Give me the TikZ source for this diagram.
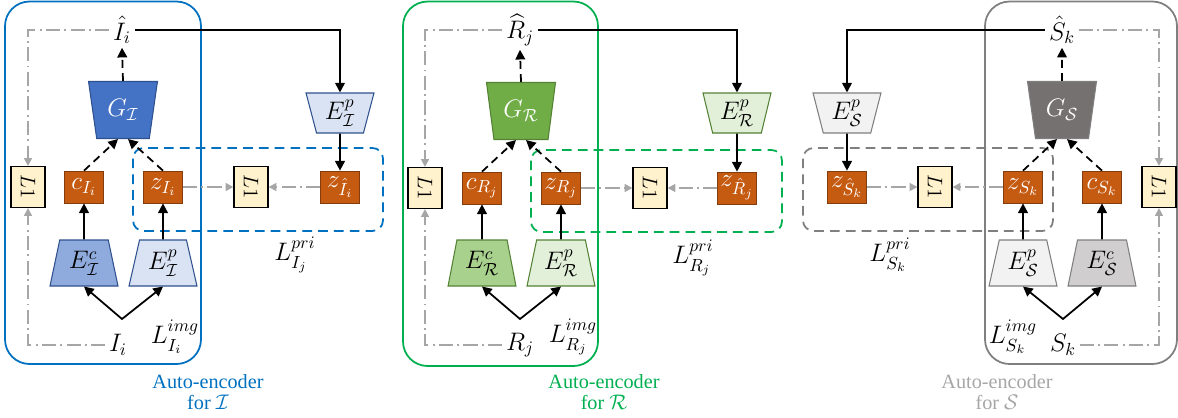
\documentclass[tikz,border=0pt]{standalone}
\usepackage{fontspec}
\setmainfont{Liberation Serif}
\usepackage{amsmath}
\usepackage{graphicx}
\usetikzlibrary{shapes.geometric, arrows.meta, positioning, calc}
\definecolor{aeblue}{HTML}{0070C0}
\definecolor{aegreen}{HTML}{00B050}
\definecolor{aegray}{HTML}{7F7F7F}
\definecolor{aelabel}{HTML}{A6A6A6}
\definecolor{codefill}{HTML}{C55A11}
\definecolor{codeedge}{HTML}{843C0C}
\definecolor{lonefill}{HTML}{FFF2CC}
\definecolor{iedge}{HTML}{2F528F}
\definecolor{idark}{HTML}{4472C4}
\definecolor{imid}{HTML}{8FAADC}
\definecolor{ilight}{HTML}{DAE3F3}
\definecolor{redge}{HTML}{548235}
\definecolor{rdark}{HTML}{70AD47}
\definecolor{rmid}{HTML}{A9D18E}
\definecolor{rlight}{HTML}{E2F0D9}
\definecolor{sedge}{HTML}{7F7F7F}
\definecolor{sdark}{HTML}{767171}
\definecolor{smid}{HTML}{D0CECE}
\definecolor{slight}{HTML}{F2F2F2}

\begin{document}
\begin{tikzpicture}[x=0.02cm, y=-0.02cm, font=\large,
    code/.style={rectangle, draw=codeedge, fill=codefill, text=white, font=\Large,
      minimum width=0.78cm, minimum height=0.64cm, inner sep=0pt},
    lone/.style={rectangle, draw=black, semithick, fill=lonefill,
      minimum width=0.68cm, minimum height=0.82cm, inner sep=0pt},
    dec/.style={trapezium, trapezium stretches=true, shape border rotate=180,
      trapezium angle=77, minimum width=1.38cm, minimum height=1.14cm,
      inner sep=0pt, text=white, semithick, font=\Large},
    enc/.style={trapezium, trapezium stretches=true, trapezium angle=76,
      minimum width=1.36cm, minimum height=0.92cm, inner sep=0pt, semithick, font=\Large},
    encp/.style={enc, shape border rotate=180, minimum height=0.8cm},
    sig/.style={font=\Large, inner sep=2pt},
    feed/.style={-{Triangle[length=5.5pt, width=5.5pt]}, line width=1pt},
    fork/.style={{Triangle[length=5.5pt, width=5.5pt]}-{Triangle[length=5.5pt, width=5.5pt]}, line width=1pt},
    gen/.style={feed, dash pattern=on 4.5pt off 3pt},
    cmp/.style={-{Triangle[length=4.5pt, width=4.5pt]}, line width=1pt, aelabel,
      dash pattern=on 8pt off 2.5pt on 1pt off 2.5pt},
    pribox/.style={line width=1pt, dash pattern=on 5.5pt off 3.5pt, rounded corners=6pt},
    aebox/.style={line width=1pt, rounded corners=14pt},
    caption/.style={align=center, font=\fontsize{11.5}{11.5}\selectfont},
  ]
  \useasboundingbox (0,0) rectangle (1178,417);

  % auto-encoder for I
  \draw[aebox, draw=aeblue] (5,1.5) rectangle (201,364);
  \draw[pribox, draw=aeblue] (133,148) rectangle (383,231);
  \node[sig] (hatI) at (122,30) {$\hat{I}_i$};
  \node[sig] (Ii) at (118,345) {$I_i$};
  \node[dec, draw=iedge, fill=idark] (GI) at (123,110) {$G_{\mathcal{I}}$};
  \node[enc, draw=iedge, fill=imid] (EcI) at (84,263) {$E^{c}_{\mathcal{I}}$};
  \node[enc, draw=iedge, fill=ilight] (EpI) at (163,263) {$E^{p}_{\mathcal{I}}$};
  \node[encp, draw=iedge, fill=ilight] (EpIo) at (340,113) {$E^{p}_{\mathcal{I}}$};
  \node[code] (cI) at (84,187) {$c_{I_i}$};
  \node[code] (zI) at (163,187) {$z_{I_i}$};
  \node[code] (zhI) at (340,187) {$z_{\hat{I}_i}$};
  \node[lone] (L1Iimg) at (28,187) {\rotatebox{-90}{$L1$}};
  \node[lone] (L1Ipri) at (251,187) {\rotatebox{-90}{$L1$}};
  \coordinate (fI) at (122,319);
  \node[sig] (LimgI) at (175,337) {$L^{img}_{I_i}$};
  \node[sig] (LpriI) at (295,255) {$L^{pri}_{I_j}$};
  \node[caption, text=aeblue] (capI) at (208,392) {Auto-encoder\\for $\mathcal{I}$};

  % auto-encoder for R
  \draw[aebox, draw=aegreen] (403,1.5) rectangle (598,366);
  \draw[pribox, draw=aegreen] (531,150) rectangle (782,232);
  \node[sig] (hatR) at (520,30) {$\widehat{R}_j$};
  \node[sig] (Rj) at (520,345) {$R_j$};
  \node[dec, draw=redge, fill=rdark] (GR) at (521,111) {$G_{\mathcal{R}}$};
  \node[enc, draw=redge, fill=rmid] (EcR) at (482,263) {$E^{c}_{\mathcal{R}}$};
  \node[enc, draw=redge, fill=rlight] (EpR) at (561,263) {$E^{p}_{\mathcal{R}}$};
  \node[encp, draw=redge, fill=rlight] (EpRo) at (737,113) {$E^{p}_{\mathcal{R}}$};
  \node[code] (cR) at (482,188) {$c_{R_j}$};
  \node[code] (zR) at (561,188) {$z_{R_j}$};
  \node[code] (zhR) at (737,188) {$z_{\hat{R}_j}$};
  \node[lone] (L1Rimg) at (425,188) {\rotatebox{-90}{$L1$}};
  \node[lone] (L1Rpri) at (650,188) {\rotatebox{-90}{$L1$}};
  \coordinate (fR) at (520,319);
  \node[sig] (LimgR) at (573,337) {$L^{img}_{R_j}$};
  \node[sig] (LpriR) at (693,258) {$L^{pri}_{R_j}$};
  \node[caption, text=aegreen] (capR) at (604,392) {Auto-encoder\\for $\mathcal{R}$};

  % auto-encoder for S (mirrored)
  \draw[aebox, draw=aegray] (985,1.5) rectangle (1177,364);
  \draw[pribox, draw=aegray] (803,148) rectangle (1053,231);
  \node[sig] (hatS) at (1062,30) {$\hat{S}_k$};
  \node[sig] (Sk) at (1063,345) {$S_k$};
  \node[dec, draw=sedge, fill=sdark] (GS) at (1062,110) {$G_{\mathcal{S}}$};
  \node[enc, draw=sedge, fill=smid] (EcS) at (1102,263) {$E^{c}_{\mathcal{S}}$};
  \node[enc, draw=sedge, fill=slight] (EpS) at (1023,263) {$E^{p}_{\mathcal{S}}$};
  \node[encp, draw=sedge, fill=slight] (EpSo) at (847,113) {$E^{p}_{\mathcal{S}}$};
  \node[code] (cS) at (1102,187) {$c_{S_k}$};
  \node[code] (zS) at (1023,187) {$z_{S_k}$};
  \node[code] (zhS) at (847,187) {$z_{\hat{S}_k}$};
  \node[lone] (L1Simg) at (1159,187) {\rotatebox{-90}{$L1$}};
  \node[lone] (L1Spri) at (935,187) {\rotatebox{-90}{$L1$}};
  \coordinate (fS) at (1063,319);
  \node[sig] (LimgS) at (1013,337) {$L^{img}_{S_k}$};
  \node[sig] (LpriS) at (890,255) {$L^{pri}_{S_k}$};
  \node[caption, text=aelabel] (capS) at (997,392) {Auto-encoder\\for $\mathcal{S}$};

  % encoders to codes
  \foreach \a/\b in {EcI/cI, EpI/zI, EpIo/zhI, EcR/cR, EpR/zR, EpRo/zhR, EcS/cS, EpS/zS, EpSo/zhS} {
    \draw[feed] (\a) -- (\b);
  }
  % codes to decoders, decoders to outputs
  \foreach \c/\z/\g/\h in {cI/zI/GI/hatI, cR/zR/GR/hatR, zS/cS/GS/hatS} {
    \draw[gen] (\c.north) -- ([xshift=-0.1cm]\g.south);
    \draw[gen] (\z.north) -- ([xshift=0.1cm]\g.south);
    \draw[gen] (\g.north) -- (\h.south);
  }
  % inputs to encoders
  \foreach \f/\l/\r in {fI/EcI/EpI, fR/EcR/EpR, fS/EpS/EcS} {
    \draw[fork] (\l.south) -- (\f) -- (\r.south);
  }
  % outputs to the other encoder
  \draw[feed] (hatI.east) -| (EpIo.north);
  \draw[feed] (hatR.east) -| (EpRo.north);
  \draw[feed] (hatS.west) -| (EpSo.north);

  % image losses
  \draw[cmp] (hatI.west) -| (L1Iimg.north);
  \draw[cmp] (Ii.west) -| (L1Iimg.south);
  \draw[cmp] (hatR.west) -| (L1Rimg.north);
  \draw[cmp] (Rj.west) -| (L1Rimg.south);
  \draw[cmp] (hatS.east) -| (L1Simg.north);
  \draw[cmp] (Sk.east) -| (L1Simg.south);

  % prior losses
  \foreach \a/\b in {zI/L1Ipri, zhI/L1Ipri, zR/L1Rpri, zhR/L1Rpri, zhS/L1Spri, zS/L1Spri} {
    \draw[cmp] (\a) -- (\b);
  }
\end{tikzpicture}
\end{document}
